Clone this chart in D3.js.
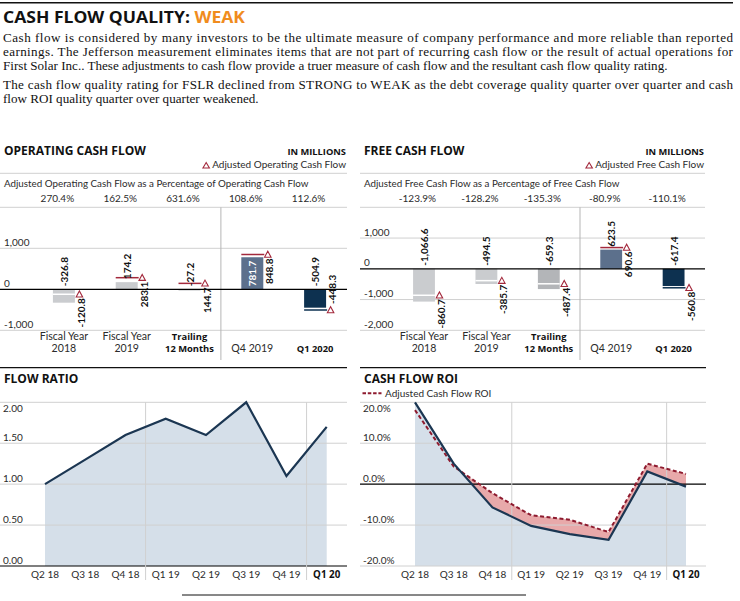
<!DOCTYPE html>
<html>
<head>
<meta charset="utf-8">
<script src="https://cdn.jsdelivr.net/npm/d3@7"></script>
<style>
  body { margin: 0; background: #fff; }
  svg  { display: block; }
</style>
</head>
<body>
<div id="chart"></div>
<script>
// ── Data ─────────────────────────────────────────────────────────────────────
var periods      = ['Fiscal Year|2018', 'Fiscal Year|2019', 'Trailing|12 Months', 'Q4 2019', 'Q1 2020'];
var boldPeriods  = [false, false, true, false, true];
var opCash       = [-326.8, 174.2, -27.2, 781.7, -448.3];
var opAdjusted   = [-120.8, 283.1, 144.7, 848.8, -504.9];
var opPct        = [270.4, 162.5, 631.6, 108.6, 112.6];
var fcfCash      = [-1066.6, -494.5, -659.3, 623.5, -560.8];
var fcfAdjusted  = [-860.7, -385.7, -487.4, 690.6, -617.4];
var fcfPct       = [-123.9, -128.2, -135.3, -80.9, -110.1];
var swapLabels   = [false, false, false, false, true];   // latest quarter prints adjusted on top
var opTicks      = [-1000, 0, 1000, 2000];
var fcfTicks     = [-2000, -1000, 0, 1000, 2000];

var quarters     = ['Q2 18', 'Q3 18', 'Q4 18', 'Q1 19', 'Q2 19', 'Q3 19', 'Q4 19', 'Q1 20'];
var flowRatio    = [1.00, 1.30, 1.60, 1.80, 1.60, 2.00, 1.10, 1.70];
var roi          = [20.0, 5.0, -5.7, -10.2, -12.2, -13.6, 3.1, -0.6];
var roiAdjusted  = [18.1, 4.3, -2.2, -7.6, -8.7, -11.7, 5.0, 2.5];
var ratioTicks   = [0, 0.5, 1.0, 1.5, 2.0];
var roiTicks     = [-20, -10, 0, 10, 20];

var bodyLines = [
  'Cash flow is considered by many investors to be the ultimate measure of company performance and more reliable than reported',
  'earnings. The Jefferson measurement eliminates items that are not part of recurring cash flow or the result of actual operations for',
  'First Solar Inc.. These adjustments to cash flow provide a truer measure of cash flow and the resultant cash flow quality rating.',
  'The cash flow quality rating for FSLR declined from STRONG to WEAK as the debt coverage quality quarter over quarter and cash',
  'flow ROI quality quarter over quarter weakened.'
];

// ── Styles ───────────────────────────────────────────────────────────────────
var SANS  = 'Lato, "Open Sans", sans-serif';
var BOLD  = '"Open Sans", Lato, sans-serif';
var SERIF = '"Liberation Serif", "Times New Roman", serif';
var RED   = '#a3293c';
var NAVY  = '#1b3652';
var GRID  = '#d0d0d0';
var TXT   = '#2b2b2b';
var BAR_COLORS = ['#cacccf', '#cacccf', '#b3b5b8', '#5c708c', '#0d3150'];

function num(fmt) { return function(v) { return d3.format(fmt)(v).replace('\u2212', '-'); }; }
var fmtVal = num(',.1f');
var fmtPct = function(v) { return num('.1f')(v) + '%'; };

function tri(cx, cy, w, h) {
  return 'M' + (cx - w / 2) + ' ' + (cy + h / 2) + ' L' + cx + ' ' + (cy - h / 2) + ' L' + (cx + w / 2) + ' ' + (cy + h / 2) + 'Z';
}

var svg = d3.select('#chart').append('svg').attr('width', 740).attr('height', 601);

// ── Header ───────────────────────────────────────────────────────────────────
svg.append('line').attr('x1', 0).attr('x2', 733).attr('y1', 2.7).attr('y2', 2.7)
  .attr('stroke', '#111').attr('stroke-width', 1.5);

var title = svg.append('text').attr('x', 3).attr('y', 22.7)
  .attr('font-family', BOLD).attr('font-weight', 700).attr('font-size', 16.5)
  .attr('fill', '#111').attr('textLength', 242).attr('lengthAdjust', 'spacingAndGlyphs')
  .style('white-space', 'pre');
title.append('tspan').text('CASH FLOW QUALITY: ');
title.append('tspan').attr('fill', '#f08c1e').text('WEAK');

var bodyY = [41.5, 55.7, 69.9, 89.2, 103.4];
var justified = [true, true, false, true, false];
bodyLines.forEach(function(s, i) {
  var t = svg.append('text').attr('x', 3).attr('y', bodyY[i])
    .attr('font-family', SERIF).attr('font-size', 13.1).attr('fill', '#111').text(s);
  if (justified[i]) t.attr('textLength', 730).attr('lengthAdjust', 'spacing');
});

// ── Bar panels ───────────────────────────────────────────────────────────────
function drawBarPanel(o) {
  var g = svg.append('g');
  var x = d3.scaleBand().domain(periods).range(o.xRange).paddingInner(0.65).paddingOuter(0.325);
  var y = d3.scaleLinear().domain(o.yDomain).range([330.3, 207.3]);
  var bw = x.bandwidth();
  var cx = function(i) { return x(periods[i]) + bw / 2; };

  g.append('text').attr('x', o.x0 + 4).attr('y', 155)
    .attr('font-family', BOLD).attr('font-weight', 700).attr('font-size', 12)
    .attr('fill', '#111').text(o.title);
  g.append('text').attr('x', o.x1 - 1).attr('y', 155).attr('text-anchor', 'end')
    .attr('font-family', BOLD).attr('font-weight', 700).attr('font-size', 9.3)
    .attr('fill', '#111').text('IN MILLIONS');
  var leg = g.append('text').attr('x', o.x1 - 1).attr('y', 168.3).attr('text-anchor', 'end')
    .attr('font-family', SANS).attr('font-size', 10).attr('fill', TXT).text(o.legend);
  var lw = leg.node().getComputedTextLength();
  g.append('path').attr('d', tri(o.x1 - 1 - lw - 6, 165.3, 6.5, 5.5))
    .attr('fill', '#fff').attr('stroke', RED).attr('stroke-width', 1.1);
  g.append('line').attr('x1', o.x0).attr('x2', o.x1).attr('y1', 173.3).attr('y2', 173.3)
    .attr('stroke', GRID).attr('stroke-width', 1);

  g.append('text').attr('x', o.x0 + 4).attr('y', 187)
    .attr('font-family', SANS).attr('font-size', 9.8).attr('fill', TXT).text(o.subtitle);
  g.selectAll('.pct').data(o.pct).enter().append('text')
    .attr('x', function(d, i) { return cx(i) - 6.5; }).attr('y', 201.7)
    .attr('text-anchor', 'middle').attr('font-family', SANS).attr('font-size', 10)
    .attr('fill', TXT).text(fmtPct);

  // gridlines
  o.ticks.forEach(function(v) {
    if (v === 0) return;
    g.append('line').attr('x1', o.x0).attr('x2', o.x1).attr('y1', y(v)).attr('y2', y(v))
      .attr('stroke', GRID).attr('stroke-width', 1);
  });
  o.ticks.forEach(function(v) {
    if (v === o.yDomain[1]) return;
    g.append('text').attr('x', o.x0 + 4).attr('y', y(v) - 2.5)
      .attr('font-family', SANS).attr('font-size', 10).attr('fill', TXT)
      .text(num(',')(v));
  });

  // separator between annual and quarterly
  var sx = (cx(2) + cx(3)) / 2;
  g.append('line').attr('x1', sx).attr('x2', sx).attr('y1', 207.3).attr('y2', 360)
    .attr('stroke', '#b5b5b5').attr('stroke-width', 1);

  // bars
  g.selectAll('.bar').data(o.values).enter().append('rect')
    .attr('x', function(d, i) { return x(periods[i]); })
    .attr('width', bw)
    .attr('y', function(d) { return y(Math.max(0, d)); })
    .attr('height', function(d) { return Math.abs(y(d) - y(0)); })
    .attr('fill', function(d, i) { return BAR_COLORS[i]; });

  // adjusted markers
  o.adjusted.forEach(function(a, i) {
    var v = o.values[i];
    var inside = (v < 0 && a < 0 && a > v) || (v > 0 && a > 0 && a < v);
    var col = inside ? '#fff' : (a > 0 ? RED : BAR_COLORS[i]);
    var left = x(periods[i]);
    g.append('line').attr('x1', left).attr('x2', left + bw + (inside ? 0 : 1)).attr('y1', y(a)).attr('y2', y(a))
      .attr('stroke', col).attr('stroke-width', 1.5);
    g.append('path').attr('d', tri(left + bw + 4.5, y(a) - 0.3, 6.5, 6))
      .attr('fill', '#fff').attr('stroke', RED).attr('stroke-width', 1.1);
  });

  g.append('line').attr('x1', o.x0).attr('x2', o.x1).attr('y1', y(0)).attr('y2', y(0))
    .attr('stroke', '#000').attr('stroke-width', 1.2);

  // value labels (rotated)
  o.values.forEach(function(v, i) {
    var a = o.adjusted[i];
    var topVal  = swapLabels[i] ? a : v;
    var sideVal = swapLabels[i] ? v : a;
    var c = cx(i);

    var top = g.append('text').attr('font-family', SANS).attr('font-weight', 700)
      .attr('font-size', 10).text(fmtVal(topVal));
    var tl = top.node().getComputedTextLength();
    var barH = Math.abs(y(v) - y(0));
    var ty, fill = '#111';
    if (v > 0 && barH > tl + 5) { ty = y(0) - 3; fill = '#fff'; }
    else ty = y(Math.max(0, v)) - 3;
    top.attr('fill', fill).attr('transform', 'translate(' + (c + 4) + ',' + ty + ') rotate(-90)');

    var side = g.append('text').attr('font-family', SANS).attr('font-weight', 700)
      .attr('font-size', 10).attr('fill', '#111').text(fmtVal(sideVal));
    var sl = side.node().getComputedTextLength();
    var sy = y(a) + 4;
    if (sy + sl > 330) {
      side.attr('text-anchor', 'start').attr('transform', 'translate(' + (c + 21) + ',' + (y(a) - 6) + ') rotate(-90)');
    } else {
      side.attr('text-anchor', 'end').attr('transform', 'translate(' + (c + 21) + ',' + sy + ') rotate(-90)');
    }
  });

  // category labels
  periods.forEach(function(p, i) {
    var parts = p.split('|');
    var ys = parts.length === 2 ? [340.2, 352] : [352];
    parts.forEach(function(s, k) {
      g.append('text').attr('x', cx(i)).attr('y', ys[k]).attr('text-anchor', 'middle')
        .attr('font-family', boldPeriods[i] ? BOLD : SANS)
        .attr('font-weight', boldPeriods[i] ? 700 : 400)
        .attr('font-size', boldPeriods[i] ? 9.4 : 10.6).attr('fill', boldPeriods[i] ? '#111' : TXT)
        .text(s);
    });
  });
}

drawBarPanel({
  x0: 0, x1: 347, xRange: [32.5, 346.5], yDomain: [-1000, 2000], ticks: opTicks,
  title: 'OPERATING CASH FLOW', legend: 'Adjusted Operating Cash Flow',
  subtitle: 'Adjusted Operating Cash Flow as a Percentage of Operating Cash Flow',
  values: opCash, adjusted: opAdjusted, pct: opPct
});
drawBarPanel({
  x0: 360, x1: 705, xRange: [392.8, 704.8], yDomain: [-2000, 2000], ticks: fcfTicks,
  title: 'FREE CASH FLOW', legend: 'Adjusted Free Cash Flow',
  subtitle: 'Adjusted Free Cash Flow as a Percentage of Free Cash Flow',
  values: fcfCash, adjusted: fcfAdjusted, pct: fcfPct
});

// ── Line panels ──────────────────────────────────────────────────────────────
function drawLinePanel(o) {
  var g = svg.append('g');
  var x = d3.scalePoint().domain(quarters).range(o.xRange);
  var y = d3.scaleLinear().domain(o.yDomain).range([566, 402.3]);
  var base = o.yDomain[0];

  g.append('line').attr('x1', o.x0).attr('x2', o.x1).attr('y1', 367.7).attr('y2', 367.7)
    .attr('stroke', '#111').attr('stroke-width', 1.3);
  g.append('text').attr('x', o.x0 + 4).attr('y', 383)
    .attr('font-family', BOLD).attr('font-weight', 700).attr('font-size', 12)
    .attr('fill', '#111').text(o.title);

  var area = d3.area().x(function(d, i) { return x(quarters[i]); })
    .y0(y(base)).y1(function(d) { return y(d); });
  g.append('path').datum(o.values).attr('d', area).attr('fill', '#d5dfe9');

  if (o.adjusted) {
    var clipId = 'clip-roi';
    g.append('clipPath').attr('id', clipId).append('path').datum(o.values)
      .attr('d', d3.area().x(function(d, i) { return x(quarters[i]); })
        .y0(y(o.yDomain[1]) - 30).y1(function(d) { return y(d); }));
    g.append('path').datum(o.values)
      .attr('d', d3.area().x(function(d, i) { return x(quarters[i]); })
        .y0(function(d) { return y(d); })
        .y1(function(d, i) { return y(o.adjusted[i]); }))
      .attr('fill', '#e8a9aa').attr('clip-path', 'url(#' + clipId + ')');
  }

  // gridlines and ticks
  o.ticks.forEach(function(v) {
    g.append('line').attr('x1', o.x0).attr('x2', o.x1).attr('y1', y(v)).attr('y2', y(v))
      .attr('stroke', v === 0 ? '#000' : GRID).attr('stroke-width', v === 0 ? 1.2 : 1);
    g.append('text').attr('x', o.x0 + 3).attr('y', v === o.yDomain[1] ? y(v) + 9.6 : y(v) - 2.3)
      .attr('font-family', SANS).attr('font-size', 10).attr('fill', TXT).text(o.fmt(v));
  });
  [[2, 3], [6, 7]].forEach(function(p) {
    var sx = (x(quarters[p[0]]) + x(quarters[p[1]])) / 2;
    g.append('line').attr('x1', sx).attr('x2', sx).attr('y1', 402.3).attr('y2', 580)
      .attr('stroke', GRID).attr('stroke-width', 1);
  });

  var line = d3.line().x(function(d, i) { return x(quarters[i]); }).y(function(d) { return y(d); });
  if (o.adjusted) {
    g.append('path').datum(o.adjusted).attr('d', line).attr('fill', 'none')
      .attr('stroke', '#8e1b2f').attr('stroke-width', 2).attr('stroke-dasharray', '4,2.5');
  }
  g.append('path').datum(o.values).attr('d', line).attr('fill', 'none')
    .attr('stroke', NAVY).attr('stroke-width', 2.2).attr('stroke-linejoin', 'miter');

  quarters.forEach(function(q, i) {
    var last = i === quarters.length - 1;
    g.append('text').attr('x', x(q)).attr('y', 578.3).attr('text-anchor', 'middle')
      .attr('font-family', last ? BOLD : SANS).attr('font-weight', last ? 700 : 400)
      .attr('font-size', last ? 9.8 : 10).attr('fill', last ? '#111' : TXT).text(q);
  });

  if (o.legend) {
    g.append('line').attr('x1', o.x0 + 2.5).attr('x2', o.x0 + 21.5).attr('y1', 393.3).attr('y2', 393.3)
      .attr('stroke', '#8e1b2f').attr('stroke-width', 2).attr('stroke-dasharray', '3.5,1.8');
    g.append('text').attr('x', o.x0 + 25).attr('y', 396.8)
      .attr('font-family', SANS).attr('font-size', 10).attr('fill', TXT).text(o.legend);
  }
}

drawLinePanel({
  x0: 0, x1: 347, xRange: [45, 326.7], yDomain: [0, 2], ticks: ratioTicks,
  title: 'FLOW RATIO', values: flowRatio, fmt: num('.2f')
});
drawLinePanel({
  x0: 360, x1: 706, xRange: [415, 686], yDomain: [-20, 20], ticks: roiTicks,
  title: 'CASH FLOW ROI', values: roi, adjusted: roiAdjusted,
  legend: 'Adjusted Cash Flow ROI', fmt: function(v) { return num('.1f')(v) + '%'; }
});

// footer rule
svg.append('line').attr('x1', 182).attr('x2', 526).attr('y1', 595).attr('y2', 595)
  .attr('stroke', '#111').attr('stroke-width', 1);
</script>
</body>
</html>
